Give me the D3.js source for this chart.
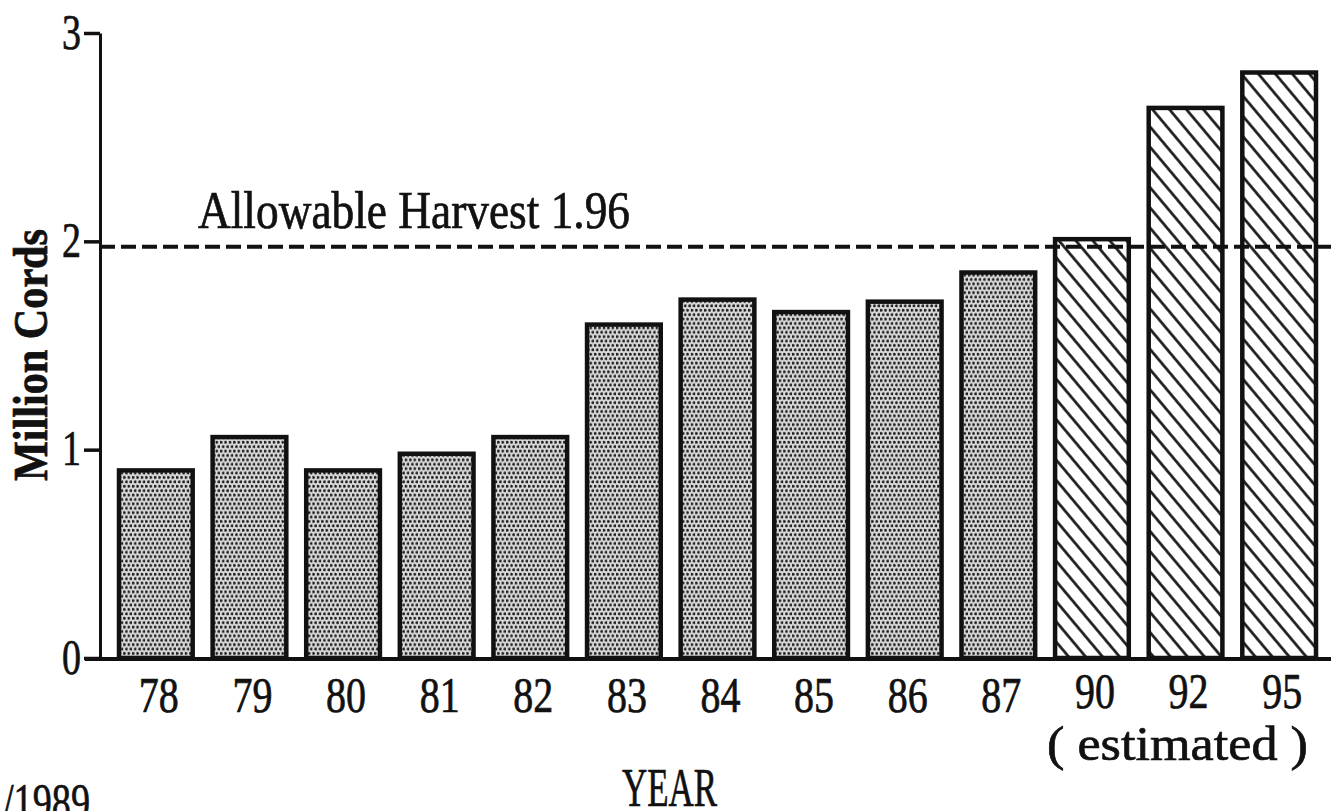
<!DOCTYPE html>
<html>
<head>
<meta charset="utf-8">
<script src="https://cdn.jsdelivr.net/npm/d3@7"></script>
<style>
  body { margin: 0; background: #fff; }
  text { font-family: "Liberation Serif", "DejaVu Serif", serif; fill: #111; stroke: #111; stroke-width: 0.7px; }
</style>
</head>
<body>
<div class="chart"></div>
<script>
var svgWidth = 1331;
var svgHeight = 811;

// data (million cords)
var years = ["78", "79", "80", "81", "82", "83", "84", "85", "86", "87", "90", "92", "95"];
var harvest = [0.91, 1.07, 0.91, 0.99, 1.07, 1.61, 1.73, 1.67, 1.72, 1.86, 2.02, 2.65, 2.82];
var estimated = ["90", "92", "95"];
var yTicks = [0, 1, 2, 3];
var allowable = 1.96;

var svg = d3.select(".chart")
  .append("svg")
  .attr("width", svgWidth)
  .attr("height", svgHeight);

var defs = svg.append("defs");

// stipple fill for the actual years
var dots = defs.append("pattern")
  .attr("id", "dots")
  .attr("patternUnits", "userSpaceOnUse")
  .attr("width", 4.4)
  .attr("height", 8.8);
dots.append("rect").attr("width", 4.4).attr("height", 8.8).attr("fill", "#dadada");
dots.append("circle").attr("cx", 1.1).attr("cy", 2.2).attr("r", 1.5).attr("fill", "#1e1e1e");
dots.append("circle").attr("cx", 3.3).attr("cy", 6.6).attr("r", 1.5).attr("fill", "#1e1e1e");

// diagonal hatch for the estimates
var hatch = defs.append("pattern")
  .attr("id", "hatch")
  .attr("patternUnits", "userSpaceOnUse")
  .attr("width", 13)
  .attr("height", 13)
  .attr("patternTransform", "rotate(-40)");
hatch.append("rect").attr("width", 13).attr("height", 13).attr("fill", "#fff");
hatch.append("line")
  .attr("x1", 6.5).attr("y1", -1).attr("x2", 6.5).attr("y2", 14)
  .attr("stroke", "#111").attr("stroke-width", 2.6);

// scales
var x = d3.scaleBand()
  .domain(years)
  .range([117, 1318])
  .paddingInner(0.17)
  .paddingOuter(0);

var y = d3.scaleLinear()
  .domain([0, 3])
  .range([658, 33]);

var chartGroup = svg.append("g");

// bars
chartGroup.selectAll("rect.bar")
  .data(years)
  .enter()
  .append("rect")
  .attr("class", "bar")
  .attr("x", d => x(d) + 2)
  .attr("y", (d, i) => y(harvest[i]) + 2)
  .attr("width", x.bandwidth() - 4)
  .attr("height", (d, i) => y(0) - y(harvest[i]) - 2)
  .attr("fill", d => estimated.includes(d) ? "url(#hatch)" : "url(#dots)")
  .attr("stroke", "#111")
  .attr("stroke-width", 4.5);

// allowable harvest line
chartGroup.append("line")
  .attr("x1", 100)
  .attr("x2", svgWidth)
  .attr("y1", y(allowable) - 3)
  .attr("y2", y(allowable) - 3)
  .attr("stroke", "#111")
  .attr("stroke-width", 4)
  .attr("stroke-dasharray", "15,6");

chartGroup.append("text")
  .attr("x", 198)
  .attr("y", 228)
  .attr("font-size", 52)
  .attr("textLength", 432)
  .attr("lengthAdjust", "spacingAndGlyphs")
  .text("Allowable Harvest " + allowable);

// y axis
var leftAxis = d3.axisLeft(y)
  .tickValues(yTicks)
  .tickFormat(d3.format("d"))
  .tickSize(16)
  .tickSizeOuter(0)
  .tickPadding(3);

var yAxisG = chartGroup.append("g")
  .attr("transform", "translate(100,0)")
  .call(leftAxis);
yAxisG.select(".domain").attr("stroke", "#111").attr("stroke-width", 3);
yAxisG.selectAll(".tick line").attr("stroke", "#111").attr("stroke-width", 3.5);
yAxisG.selectAll(".tick text")
  .attr("font-family", "Liberation Serif")
  .attr("font-size", 50)
  .attr("fill", "#111")
  .attr("dy", "0.3em")
  .attr("textLength", 19)
  .attr("lengthAdjust", "spacingAndGlyphs");

// x axis
var bottomAxis = d3.axisBottom(x).tickSize(0).tickSizeOuter(0);
var xAxisG = chartGroup.append("g")
  .attr("transform", "translate(0,659)")
  .call(bottomAxis);
xAxisG.select(".domain").remove();
xAxisG.selectAll(".tick text")
  .attr("font-family", "Liberation Serif")
  .attr("font-size", 50)
  .attr("fill", "#111")
  .attr("y", d => estimated.includes(d) ? 49 : 53)
  .attr("dy", null)
  .attr("dx", 3)
  .attr("textLength", 40)
  .attr("lengthAdjust", "spacingAndGlyphs");

chartGroup.append("line")
  .attr("x1", 85)
  .attr("x2", svgWidth)
  .attr("y1", 659)
  .attr("y2", 659)
  .attr("stroke", "#111")
  .attr("stroke-width", 4);

// axis labels
chartGroup.append("text")
  .attr("transform", "translate(47,355) rotate(-90)")
  .attr("text-anchor", "middle")
  .attr("font-size", 48)
  .attr("font-weight", "bold")
  .attr("textLength", 252)
  .attr("lengthAdjust", "spacingAndGlyphs")
  .text("Million Cords");

chartGroup.append("text")
  .attr("x", 1047)
  .attr("y", 760)
  .attr("font-size", 48)
  .attr("textLength", 261)
  .attr("lengthAdjust", "spacingAndGlyphs")
  .text("( estimated )");

chartGroup.append("text")
  .attr("x", 622)
  .attr("y", 806)
  .attr("font-size", 54)
  .attr("textLength", 95)
  .attr("lengthAdjust", "spacingAndGlyphs")
  .text("YEAR");

chartGroup.append("text")
  .attr("x", 3)
  .attr("y", 820)
  .attr("font-size", 52)
  .attr("textLength", 87)
  .attr("lengthAdjust", "spacingAndGlyphs")
  .text("/1989");
</script>
</body>
</html>
